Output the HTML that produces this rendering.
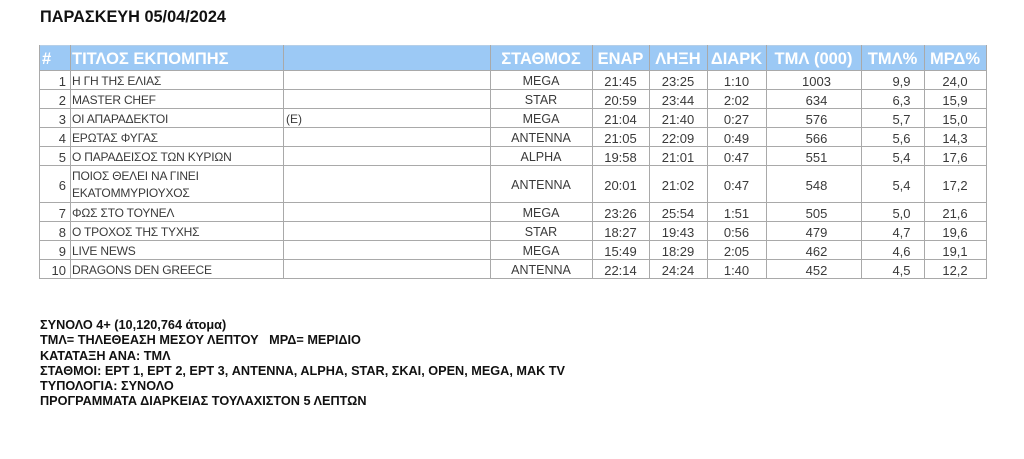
<!DOCTYPE html>
<html>
<head>
<meta charset="utf-8">
<style>
  html,body{margin:0;padding:0;background:#fff;}
  body{width:1024px;height:459px;position:relative;overflow:hidden;font-family:"Liberation Sans","DejaVu Sans",sans-serif;}
  .title{position:absolute;left:40px;top:7px;font-size:16.3px;font-weight:bold;line-height:20px;color:#111;white-space:nowrap;}
  .hdr{position:absolute;left:39px;top:45px;width:948px;height:25px;background:#9cc9f5;}
  .hl{position:absolute;left:39px;width:948px;height:1px;background:#a9a9a9;}
  .vl{position:absolute;top:45px;height:234px;width:1px;background:#a9a9a9;}
  .row{position:absolute;left:39px;display:flex;width:948px;}
  .row div{flex:none;box-sizing:border-box;white-space:nowrap;overflow:visible;position:relative;}
  .hrow{top:45px;height:25px;line-height:25px;color:#fff;font-weight:bold;font-size:16.5px;}
  .hrow div{top:2px;}
  .brow{color:#3a3a3a;font-size:13px;height:19px;line-height:19px;}
  .brow div{top:2px;}
  .c1{width:31px;text-align:right;padding-right:4px;}
  .c2{width:213px;padding-left:2px;font-size:12px;letter-spacing:-0.2px;}
  .c3{width:207px;padding-left:3px;font-size:12px;}
  .c4{width:102px;text-align:center;font-size:12.5px;}
  .c5{width:57px;text-align:center;}
  .c6{width:58px;text-align:center;}
  .c7{width:59px;text-align:center;}
  .c8{width:95px;text-align:center;padding-left:6px;}
  .c9{width:63px;text-align:center;padding-left:18px;}
  .c10{width:62px;text-align:center;}
  .hrow .c1{text-align:left;padding-left:3px;padding-right:0;}
  .hrow .c2{font-size:16.5px;letter-spacing:0;}
  .hrow .c8,.hrow .c9{padding-left:0;}
  .hrow .c4{font-size:16.5px;}
  .notes{position:absolute;left:40px;top:318px;font-size:12.7px;font-weight:bold;line-height:15.3px;color:#111;white-space:pre;}
</style>
</head>
<body>
<div class="title">ΠΑΡΑΣΚΕΥΗ 05/04/2024</div>

<div class="hdr"></div>

<div class="hl" style="top:45px;background:#b5cfe8"></div>
<div class="hl" style="top:70px"></div>
<div class="hl" style="top:89px"></div>
<div class="hl" style="top:108px"></div>
<div class="hl" style="top:127px"></div>
<div class="hl" style="top:146px"></div>
<div class="hl" style="top:165px"></div>
<div class="hl" style="top:202px"></div>
<div class="hl" style="top:221px"></div>
<div class="hl" style="top:240px"></div>
<div class="hl" style="top:259px"></div>
<div class="hl" style="top:278px"></div>

<div class="vl" style="left:39px"></div>
<div class="vl" style="left:70px"></div>
<div class="vl" style="left:283px"></div>
<div class="vl" style="left:490px"></div>
<div class="vl" style="left:592px"></div>
<div class="vl" style="left:649px"></div>
<div class="vl" style="left:707px"></div>
<div class="vl" style="left:766px"></div>
<div class="vl" style="left:861px"></div>
<div class="vl" style="left:924px"></div>
<div class="vl" style="left:986px"></div>

<div class="row hrow">
  <div class="c1">#</div><div class="c2">ΤΙΤΛΟΣ ΕΚΠΟΜΠΗΣ</div><div class="c3"></div><div class="c4">ΣΤΑΘΜΟΣ</div><div class="c5">ΕΝΑΡ</div><div class="c6">ΛΗΞΗ</div><div class="c7">ΔΙΑΡΚ</div><div class="c8">ΤΜΛ (000)</div><div class="c9">ΤΜΛ%</div><div class="c10">ΜΡΔ%</div>
</div>

<div class="row brow" style="top:70px">
  <div class="c1">1</div><div class="c2">Η ΓΗ ΤΗΣ ΕΛΙΑΣ</div><div class="c3"></div><div class="c4">MEGA</div><div class="c5">21:45</div><div class="c6">23:25</div><div class="c7">1:10</div><div class="c8">1003</div><div class="c9">9,9</div><div class="c10">24,0</div>
</div>
<div class="row brow" style="top:89px">
  <div class="c1">2</div><div class="c2">MASTER CHEF</div><div class="c3"></div><div class="c4">STAR</div><div class="c5">20:59</div><div class="c6">23:44</div><div class="c7">2:02</div><div class="c8">634</div><div class="c9">6,3</div><div class="c10">15,9</div>
</div>
<div class="row brow" style="top:108px">
  <div class="c1">3</div><div class="c2">ΟΙ ΑΠΑΡΑΔΕΚΤΟΙ</div><div class="c3">(E)</div><div class="c4">MEGA</div><div class="c5">21:04</div><div class="c6">21:40</div><div class="c7">0:27</div><div class="c8">576</div><div class="c9">5,7</div><div class="c10">15,0</div>
</div>
<div class="row brow" style="top:127px">
  <div class="c1">4</div><div class="c2">ΕΡΩΤΑΣ ΦΥΓΑΣ</div><div class="c3"></div><div class="c4">ANTENNA</div><div class="c5">21:05</div><div class="c6">22:09</div><div class="c7">0:49</div><div class="c8">566</div><div class="c9">5,6</div><div class="c10">14,3</div>
</div>
<div class="row brow" style="top:146px">
  <div class="c1">5</div><div class="c2">Ο ΠΑΡΑΔΕΙΣΟΣ ΤΩΝ ΚΥΡΙΩΝ</div><div class="c3"></div><div class="c4">ALPHA</div><div class="c5">19:58</div><div class="c6">21:01</div><div class="c7">0:47</div><div class="c8">551</div><div class="c9">5,4</div><div class="c10">17,6</div>
</div>
<div class="row brow" style="top:165px;height:37px;line-height:37px">
  <div class="c1">6</div><div class="c2" style="line-height:16.6px;top:3px">ΠΟΙΟΣ ΘΕΛΕΙ ΝΑ ΓΙΝΕΙ<br>ΕΚΑΤΟΜΜΥΡΙΟΥΧΟΣ</div><div class="c3"></div><div class="c4">ANTENNA</div><div class="c5">20:01</div><div class="c6">21:02</div><div class="c7">0:47</div><div class="c8">548</div><div class="c9">5,4</div><div class="c10">17,2</div>
</div>
<div class="row brow" style="top:202px">
  <div class="c1">7</div><div class="c2">ΦΩΣ ΣΤΟ ΤΟΥΝΕΛ</div><div class="c3"></div><div class="c4">MEGA</div><div class="c5">23:26</div><div class="c6">25:54</div><div class="c7">1:51</div><div class="c8">505</div><div class="c9">5,0</div><div class="c10">21,6</div>
</div>
<div class="row brow" style="top:221px">
  <div class="c1">8</div><div class="c2">Ο ΤΡΟΧΟΣ ΤΗΣ ΤΥΧΗΣ</div><div class="c3"></div><div class="c4">STAR</div><div class="c5">18:27</div><div class="c6">19:43</div><div class="c7">0:56</div><div class="c8">479</div><div class="c9">4,7</div><div class="c10">19,6</div>
</div>
<div class="row brow" style="top:240px">
  <div class="c1">9</div><div class="c2">LIVE NEWS</div><div class="c3"></div><div class="c4">MEGA</div><div class="c5">15:49</div><div class="c6">18:29</div><div class="c7">2:05</div><div class="c8">462</div><div class="c9">4,6</div><div class="c10">19,1</div>
</div>
<div class="row brow" style="top:259px">
  <div class="c1">10</div><div class="c2">DRAGONS DEN GREECE</div><div class="c3"></div><div class="c4">ANTENNA</div><div class="c5">22:14</div><div class="c6">24:24</div><div class="c7">1:40</div><div class="c8">452</div><div class="c9">4,5</div><div class="c10">12,2</div>
</div>

<div class="notes">ΣΥΝΟΛΟ 4+ (10,120,764 άτομα)
ΤΜΛ= ΤΗΛΕΘΕΑΣΗ ΜΕΣΟΥ ΛΕΠΤΟΥ   ΜΡΔ= ΜΕΡΙΔΙΟ
ΚΑΤΑΤΑΞΗ ΑΝΑ: ΤΜΛ
ΣΤΑΘΜΟΙ: ΕΡΤ 1, ΕΡΤ 2, ΕΡΤ 3, ANTENNA, ALPHA, STAR, ΣΚΑΙ, OPEN, MEGA, MAK TV
ΤΥΠΟΛΟΓΙΑ: ΣΥΝΟΛΟ
ΠΡΟΓΡΑΜΜΑΤΑ ΔΙΑΡΚΕΙΑΣ ΤΟΥΛΑΧΙΣΤΟΝ 5 ΛΕΠΤΩΝ</div>
</body>
</html>
